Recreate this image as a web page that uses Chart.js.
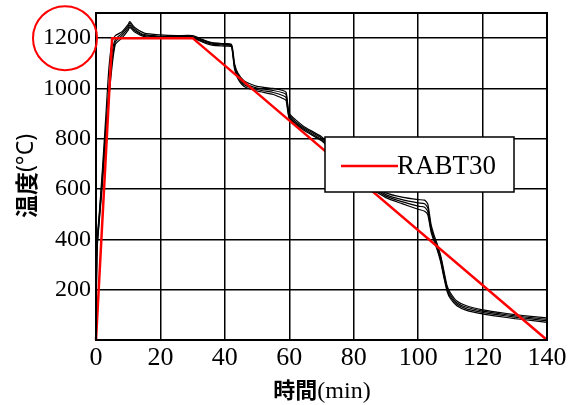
<!DOCTYPE html>
<html>
<head>
<meta charset="utf-8">
<script src="https://cdn.jsdelivr.net/npm/chart.js@4"></script>
<style>
  html, body { margin: 0; padding: 0; background: #fff; }
  #wrap { width: 577px; height: 405px; }
</style>
</head>
<body>
<div id="wrap"><canvas id="chart" width="577" height="405"></canvas></div>
<script>
// measured furnace curves (min / °C)
const minutes = [0, 0.3, 1, 2, 3, 4, 5, 6, 8, 10, 10.5, 12, 15, 20, 25, 30, 33, 36, 40, 42,
  42.5, 43, 44, 46, 50, 55, 58, 59, 59.5, 60, 62, 65, 70, 75, 80, 85, 90, 95, 100, 102,
  103, 104, 105, 106, 107, 108, 109, 110, 112, 115, 120, 125, 130, 135, 140];

const test1 = [20, 390, 500, 680, 880, 1080, 1185, 1210, 1225, 1255, 1266, 1242, 1220, 1213, 1210, 1210, 1195, 1182, 1178, 1176,
  1150, 1100, 1062, 1030, 1008, 1000, 992, 985, 940, 900, 875, 845, 808, 752, 692, 630, 585, 568, 558, 556,
  540, 460, 415, 378, 335, 275, 215, 188, 155, 136, 120, 110, 101, 94, 88];
const test2 = [20, 370, 490, 660, 840, 1000, 1140, 1195, 1218, 1248, 1260, 1236, 1214, 1208, 1206, 1206, 1192, 1180, 1175, 1173,
  1140, 1092, 1055, 1022, 1002, 992, 983, 976, 930, 892, 868, 840, 802, 745, 685, 622, 578, 558, 545, 542,
  525, 450, 405, 370, 328, 265, 208, 180, 148, 130, 115, 105, 96, 89, 82];
const test3 = [20, 360, 480, 640, 820, 980, 1110, 1185, 1210, 1240, 1252, 1230, 1210, 1205, 1203, 1203, 1188, 1176, 1172, 1170,
  1135, 1085, 1048, 1015, 996, 984, 972, 964, 920, 885, 862, 835, 797, 740, 678, 615, 572, 550, 532, 528,
  510, 440, 398, 362, 318, 255, 200, 172, 142, 124, 110, 100, 91, 84, 76];
const test4 = [20, 350, 470, 620, 800, 960, 1090, 1175, 1200, 1232, 1244, 1224, 1206, 1202, 1200, 1200, 1185, 1172, 1168, 1166,
  1128, 1078, 1040, 1008, 990, 976, 960, 952, 912, 880, 858, 830, 792, 735, 672, 608, 566, 542, 520, 512,
  498, 430, 390, 355, 310, 248, 193, 165, 136, 118, 104, 94, 85, 78, 70];

// RABT30 standard curve
const rabtTime = [0, 5, 30, 140];
const rabtTemp = [0, 1200, 1200, 0];

const xTicks = [0, 20, 40, 60, 80, 100, 120, 140];
const yTicks = [200, 400, 600, 800, 1000, 1200];

const pts = (xs, ys) => xs.map((x, i) => ({ x: x, y: ys[i] }));

const blackSet = (vals) => ({
  label: '',
  data: pts(minutes, vals),
  borderColor: '#000',
  borderWidth: 1.2,
  pointRadius: 0,
  tension: 0.2,
  fill: false
});

const frame = {
  id: 'frame',
  afterDatasetsDraw(chart) {
    const { ctx, chartArea: a } = chart;
    ctx.save();
    ctx.strokeStyle = '#000';
    ctx.lineWidth = 2;
    ctx.strokeRect(a.left, a.top, a.right - a.left, a.bottom - a.top);

    // legend box
    ctx.fillStyle = '#fff';
    ctx.fillRect(325, 137, 189, 55);
    ctx.lineWidth = 1.5;
    ctx.strokeRect(325, 137, 189, 55);
    ctx.strokeStyle = '#ff0000';
    ctx.lineWidth = 2.5;
    ctx.beginPath();
    ctx.moveTo(341, 166);
    ctx.lineTo(398, 166);
    ctx.stroke();
    ctx.fillStyle = '#000';
    ctx.font = "27px 'Liberation Serif'";
    ctx.textBaseline = 'middle';
    ctx.textAlign = 'left';
    ctx.fillText(chart.data.datasets[0].label, 397, 167);

    // red circle around 1200
    const cy = chart.scales.y.getPixelForValue(1200);
    ctx.strokeStyle = '#ff0000';
    ctx.lineWidth = 2;
    ctx.beginPath();
    ctx.arc(65, cy, 32, 0, Math.PI * 2);
    ctx.stroke();

    // axis titles
    ctx.fillStyle = '#000';
    ctx.textBaseline = 'middle';
    ctx.font = "bold 22px 'Noto Sans CJK JP'";
    const wa = ctx.measureText('時間').width;
    ctx.font = "24px 'Liberation Serif'";
    const wb = ctx.measureText('(min)').width;
    let x0 = 322 - (wa + wb) / 2;
    ctx.font = "bold 22px 'Noto Sans CJK JP'";
    ctx.fillText('時間', x0, 390);
    ctx.font = "24px 'Liberation Serif'";
    ctx.fillText('(min)', x0 + wa, 392);

    ctx.translate(26, 176);
    ctx.rotate(-Math.PI / 2);
    ctx.font = "bold 23px 'Noto Sans CJK JP'";
    const wc = ctx.measureText('温度').width;
    ctx.font = "23px 'Noto Sans'";
    const wd = ctx.measureText('(°C)').width;
    x0 = -(wc + wd) / 2;
    ctx.font = "bold 23px 'Noto Sans CJK JP'";
    ctx.fillText('温度', x0, 0);
    ctx.font = "23px 'Noto Sans'";
    ctx.fillText('(°C)', x0 + wc, 0);
    ctx.restore();
  }
};

const ctx = document.getElementById('chart').getContext('2d');
const chart = new Chart(ctx, {
  type: 'line',
  data: {
    datasets: [
      {
        label: 'RABT30',
        data: pts(rabtTime, rabtTemp),
        borderColor: '#ff0000',
        borderWidth: 2.5,
        pointRadius: 0,
        tension: 0,
        fill: false,
        clip: false
      },
      blackSet(test1),
      blackSet(test2),
      blackSet(test3),
      blackSet(test4)
    ]
  },
  options: {
    responsive: false,
    animation: false,
    layout: { padding: { top: 13, right: 30, left: 0, bottom: 0 } },
    plugins: { legend: { display: false }, tooltip: { enabled: false } },
    scales: {
      x: {
        type: 'linear',
        min: 0,
        max: 140,
        afterFit: (s) => { s.height = 65; s.paddingRight = 0; s.paddingLeft = 0; },
        afterBuildTicks: (s) => { s.ticks = xTicks.map(v => ({ value: v })); },
        grid: { color: '#000', lineWidth: 1.5, drawTicks: false },
        border: { color: '#000', width: 2 },
        ticks: { color: '#000', padding: 3, callback: (v) => String(v), font: { family: "'Liberation Serif'", size: 26 } }
      },
      y: {
        min: 0,
        max: 1300,
        afterFit: (s) => { s.width = 96; s.paddingTop = 0; s.paddingBottom = 0; },
        afterBuildTicks: (s) => { s.ticks = yTicks.map(v => ({ value: v })); },
        grid: { color: '#000', lineWidth: 1.5, drawTicks: false },
        border: { color: '#000', width: 2 },
        ticks: { color: '#000', padding: 5, callback: (v) => String(v), font: { family: "'Liberation Serif'", size: 24 } }
      }
    }
  },
  plugins: [frame]
});
</script>
</body>
</html>
